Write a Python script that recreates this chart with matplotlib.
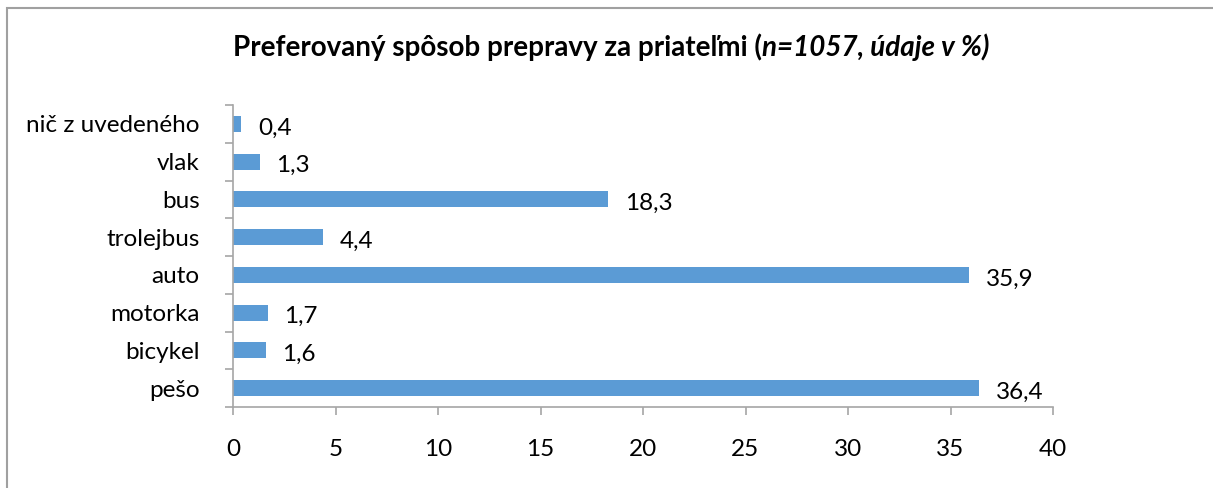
import matplotlib
matplotlib.use("Agg")
import matplotlib.pyplot as plt
from matplotlib.patches import Rectangle

categories = ["pešo", "bicykel", "motorka", "auto", "trolejbus", "bus", "vlak", "nič z uvedeného"]
values = [36.4, 1.6, 1.7, 35.9, 4.4, 18.3, 1.3, 0.4]
xticks = [0, 5, 10, 15, 20, 25, 30, 35, 40]

plt.rcParams['font.family'] = ['Lato', 'DejaVu Sans']
bar_color = '#5B9BD5'
axis_color = '#A6A6A6'
fs = 17.5

fig = plt.figure(figsize=(12.13, 4.88), dpi=100)
ax = fig.add_axes([233/1213, 1-407/488, (1053-233)/1213, (407-105)/488])

pos = list(range(len(categories)))
ax.barh(pos, values, height=0.42, color=bar_color)
for p, v in zip(pos, values):
    ax.annotate(f"{v:.1f}".replace('.', ','), (v, p), xytext=(12, -1.5), textcoords='offset points',
                va='center_baseline', ha='left', fontsize=fs)

ax.set_xlim(0, 40)
ax.set_ylim(-0.5, len(categories) - 0.5)
ax.set_xticks(xticks)
ax.set_xticklabels([str(t) for t in xticks], fontsize=fs)
ax.set_yticks(pos)
ax.set_yticklabels(categories, fontsize=fs)
ax.set_yticks([p - 0.5 for p in pos] + [len(pos) - 0.5], minor=True)
ax.tick_params(axis='y', which='major', length=0, pad=24)
ax.tick_params(axis='y', which='minor', length=6, color=axis_color, width=1.2)
ax.tick_params(axis='x', length=6, color=axis_color, width=1.2, pad=17)
for s in ['top', 'right']:
    ax.spines[s].set_visible(False)
for s in ['left', 'bottom']:
    ax.spines[s].set_color(axis_color)
    ax.spines[s].set_linewidth(1.2)

# outer chart border (cropped: only top and left visible)
fig.patches.append(Rectangle((7/1213, -0.1), 1.2, 1-8/488+0.1, transform=fig.transFigure,
                             fill=False, edgecolor='#A0A0A0', linewidth=1.5))

# title: bold + bold italic part
t1 = fig.text(0, 1-47/488, "Preferovaný spôsob prepravy za priateľmi (", fontsize=20,
              fontweight='bold', va='center', ha='left')
t2 = fig.text(0, 1-47/488, "n=1057, údaje v %)", fontsize=20, fontweight='bold',
              style='italic', va='center', ha='left')
fig.canvas.draw()
r = fig.canvas.get_renderer()
w1 = t1.get_window_extent(r).width / 1213
w2 = t2.get_window_extent(r).width / 1213
x0 = 611/1213 - (w1 + w2) / 2
t1.set_x(x0)
t2.set_x(x0 + w1)

fig.savefig("out.png", dpi=100)
